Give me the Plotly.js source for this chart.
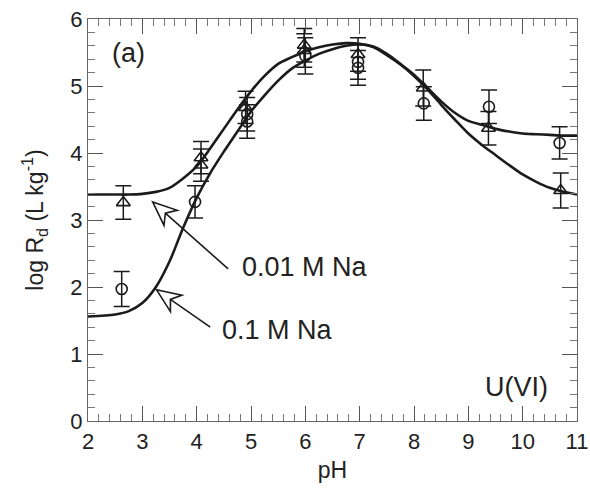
<!DOCTYPE html>
<html>
<head>
<meta charset="utf-8">
<script src="https://cdn.plot.ly/plotly-3.0.1.min.js"></script>
<style>
  html, body { margin: 0; padding: 0; background: #fff; }
  #chart { width: 590px; height: 491px; }
</style>
</head>
<body>
<div id="chart"></div>
<script>
// Model curves (log Rd vs pH) for the two NaNO3 ionic strengths
const curvePH = [2.0, 2.5, 2.75, 3.0, 3.25, 3.5, 3.75, 4.0, 4.25, 4.5, 4.75, 5.0, 5.25, 5.5, 5.75, 6.0, 6.25, 6.5, 6.75, 7.0, 7.25, 7.5, 7.75, 8.0, 8.25, 8.5, 8.75, 9.0, 9.25, 9.5, 9.75, 10.0, 10.25, 10.5, 10.75, 11.0];
const curveLow = [3.38, 3.38, 3.38, 3.39, 3.42, 3.48, 3.62, 3.80, 4.07, 4.36, 4.65, 4.92, 5.15, 5.33, 5.43, 5.52, 5.58, 5.62, 5.64, 5.63, 5.58, 5.46, 5.32, 5.15, 4.95, 4.72, 4.50, 4.29, 4.12, 3.97, 3.82, 3.68, 3.57, 3.48, 3.42, 3.38];
const curveHigh = [1.56, 1.59, 1.64, 1.76, 2.00, 2.38, 2.88, 3.33, 3.70, 4.02, 4.32, 4.62, 4.86, 5.08, 5.26, 5.38, 5.48, 5.55, 5.60, 5.62, 5.59, 5.48, 5.33, 5.17, 4.97, 4.77, 4.60, 4.48, 4.42, 4.36, 4.32, 4.29, 4.28, 4.27, 4.26, 4.26];

// Measured points: 0.01 M Na (triangles)
const triPH  = [2.65, 4.08, 4.08, 4.90, 5.98, 5.98, 6.97, 8.17, 9.37, 10.70];
const triLog = [3.26, 3.93, 3.82, 4.68, 5.61, 5.53, 5.47, 4.97, 4.37, 3.44];
const triErr = [0.25, 0.24, 0.24, 0.24, 0.25, 0.25, 0.25, 0.27, 0.25, 0.26];

// Measured points: 0.1 M Na (circles)
const cirPH  = [2.62, 3.97, 4.93, 4.93, 6.00, 6.97, 6.97, 8.18, 9.38, 10.68];
const cirLog = [1.97, 3.27, 4.58, 4.47, 5.45, 5.36, 5.27, 4.74, 4.69, 4.15];
const cirErr = [0.26, 0.24, 0.25, 0.25, 0.27, 0.26, 0.26, 0.25, 0.25, 0.24];

const seriesNames = ['0.01 M Na', '0.1 M Na'];
const xRange = [2, 11];
const yRange = [0, 6];

const FONT = 'Liberation Sans, Arial, Helvetica, sans-serif';
const INK = '#1b1b1b';

const W = 590, H = 491;
const M = { l: 88, r: 13, t: 19, b: 70 };
const plotW = W - M.l - M.r, plotH = H - M.t - M.b;
const pxPerX = plotW / (xRange[1] - xRange[0]);
const pxPerY = plotH / (yRange[1] - yRange[0]);

// Hollow barbed arrow from a tail point to a tip point (data coords),
// head geometry is set in screen pixels.
function openArrow(tail, tip, L, Wd, notch) {
  const tx = tip[0] * pxPerX, ty = tip[1] * pxPerY;
  const sx = tail[0] * pxPerX, sy = tail[1] * pxPerY;
  let dx = sx - tx, dy = sy - ty;
  const len = Math.hypot(dx, dy);
  dx /= len; dy /= len;
  const nx = -dy, ny = dx;
  const toData = (px, py) => [px / pxPerX, py / pxPerY];
  const pts = [
    [tx, ty],
    [tx + dx * L + nx * Wd, ty + dy * L + ny * Wd],
    [tx + dx * (L - notch), ty + dy * (L - notch)],
    [tx + dx * L - nx * Wd, ty + dy * L - ny * Wd]
  ].map(p => toData(p[0], p[1]));
  const head = 'M' + pts.map(p => p[0] + ',' + p[1]).join(' L') + ' Z';
  const nb = pts[2];
  const shaft = 'M' + nb[0] + ',' + nb[1] + ' L' + tail[0] + ',' + tail[1];
  const style = { color: INK, width: 1.6 };
  return [
    { type: 'path', xref: 'x', yref: 'y', path: head, line: style, fillcolor: 'rgba(255,255,255,1)' },
    { type: 'path', xref: 'x', yref: 'y', path: shaft, line: style }
  ];
}

const lineStyle = { color: INK, width: 2.6, shape: 'spline', smoothing: 0.8 };
const errStyle = (arr) => ({ type: 'data', array: arr, visible: true, color: INK, thickness: 1.5, width: 8 });

const traces = [
  { x: curvePH, y: curveLow, mode: 'lines', line: lineStyle, name: seriesNames[0], hoverinfo: 'skip' },
  { x: curvePH, y: curveHigh, mode: 'lines', line: lineStyle, name: seriesNames[1], hoverinfo: 'skip' },
  { x: triPH, y: triLog, mode: 'markers', name: seriesNames[0],
    marker: { symbol: 'triangle-up-open', size: 12, color: INK, line: { width: 1.6, color: INK } },
    error_y: errStyle(triErr) },
  { x: cirPH, y: cirLog, mode: 'markers', name: seriesNames[1],
    marker: { symbol: 'circle-open', size: 11, color: INK, line: { width: 1.6, color: INK } },
    error_y: errStyle(cirErr) }
];

const axisBase = {
  showline: true, linecolor: '#666', linewidth: 1.2, mirror: 'allticks',
  ticks: 'inside', ticklen: 15, tickwidth: 1, tickcolor: '#555',
  showgrid: false, zeroline: false, fixedrange: true,
  tickfont: { family: FONT, size: 22, color: '#222' }
};

const layout = {
  width: W, height: H,
  margin: M,
  paper_bgcolor: '#fff', plot_bgcolor: '#fff',
  showlegend: false,
  font: { family: FONT, color: '#222' },
  xaxis: Object.assign({}, axisBase, {
    range: xRange, dtick: 1, tick0: 2,
    minor: { dtick: 0.2, ticks: 'inside', ticklen: 7, tickcolor: '#777', tickwidth: 1 },
    title: { text: 'pH', font: { family: FONT, size: 23, color: '#222' }, standoff: 9 }
  }),
  yaxis: Object.assign({}, axisBase, {
    range: yRange, dtick: 1, tick0: 0,
    minor: { dtick: 0.2, ticks: 'inside', ticklen: 7, tickcolor: '#777', tickwidth: 1 },
    title: { text: 'log R<sub>d</sub> (L kg<sup>-1</sup>)', font: { family: FONT, size: 23, color: '#222' }, standoff: 20 }
  }),
  shapes: [].concat(
    openArrow([4.58, 2.27], [3.19, 3.27], 24, 10, 7),
    openArrow([4.25, 1.40], [3.26, 1.96], 24, 10, 7)
  ),
  annotations: [
    { x: 4.8, y: 2.3, xref: 'x', yref: 'y', text: seriesNames[0], showarrow: false, xanchor: 'left', yanchor: 'middle',
      font: { family: FONT, size: 27, color: '#222' } },
    { x: 4.43, y: 1.36, xref: 'x', yref: 'y', text: seriesNames[1], showarrow: false, xanchor: 'left', yanchor: 'middle',
      font: { family: FONT, size: 27, color: '#222' } },
    { x: 2.4, y: 5.5, xref: 'x', yref: 'y', text: '(a)', showarrow: false, xanchor: 'left', yanchor: 'middle',
      font: { family: FONT, size: 27, color: '#222' } },
    { x: 10.5, y: 0.51, xref: 'x', yref: 'y', text: 'U(VI)', showarrow: false, xanchor: 'right', yanchor: 'middle',
      font: { family: FONT, size: 27, color: '#222' } }
  ]
};

Plotly.newPlot('chart', traces, layout, { staticPlot: true, displayModeBar: false });
</script>
</body>
</html>
